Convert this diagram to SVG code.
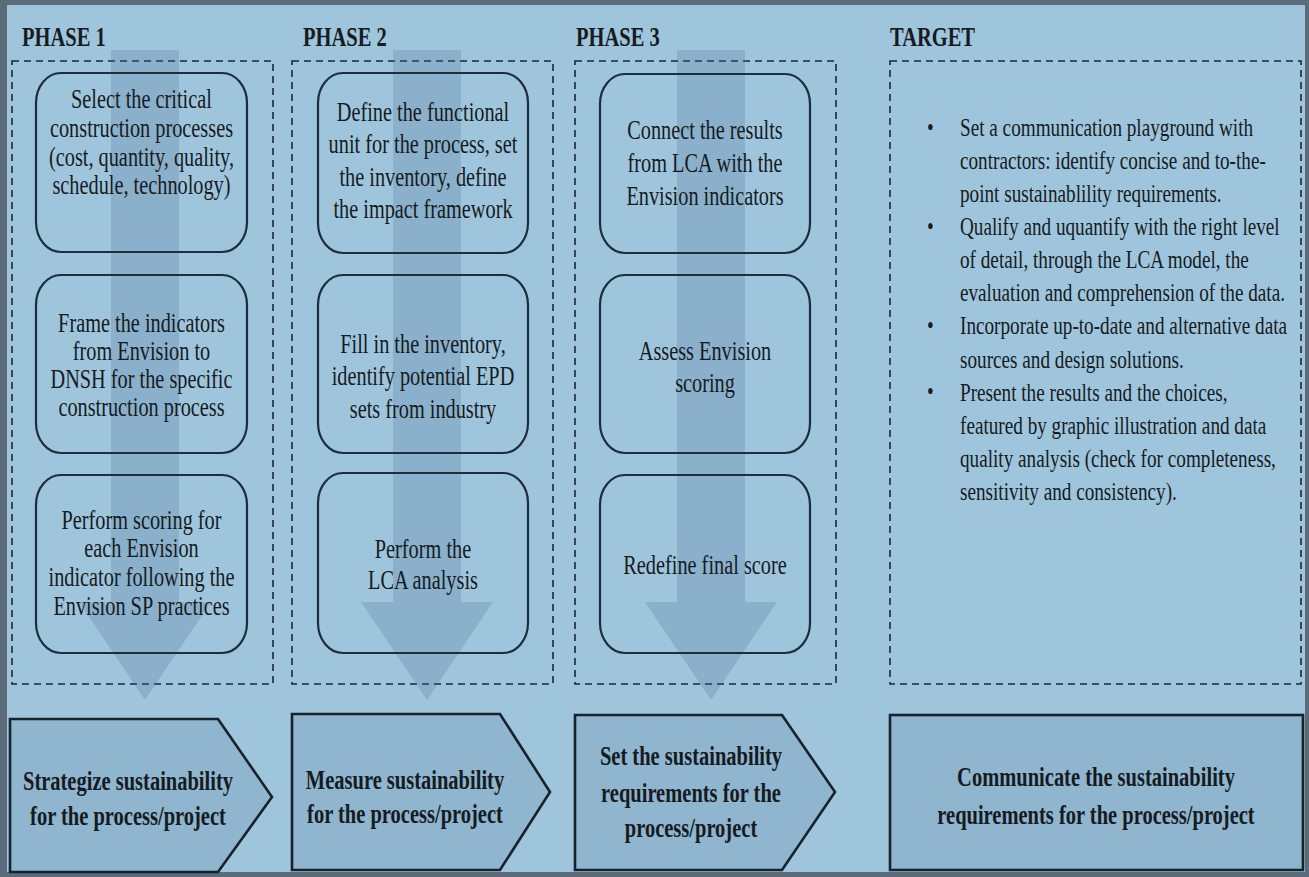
<svg xmlns="http://www.w3.org/2000/svg" width="1309" height="877" viewBox="0 0 1309 877">
<style>
.frame{fill:#5a6b7a}
.bg{fill:#9fc5dd}
.dash{fill:none;stroke:#1b2733;stroke-width:1.6;stroke-dasharray:7,5}
.arrow{fill:#4f7595;fill-opacity:0.26}
.box{fill:none;stroke:#1d2d3b;stroke-width:2.2}
.chev{fill:#8fb5cf;stroke:#17222c;stroke-width:2.6;stroke-linejoin:miter}
.t{font-family:"Liberation Serif","Times New Roman",serif;font-size:20.3px;fill:#151b21}
.c{text-anchor:middle}
.b{font-weight:bold;font-size:20.5px}
.g{font-size:19.2px}
</style>
<rect class="frame" x="0" y="0" width="1309" height="877"/>
<rect class="bg" x="7" y="5" width="1298" height="867"/>

<g id="phase1">
  <text class="t b" transform="translate(22,46) scale(1,1.3)">PHASE 1</text>
  <rect class="dash" x="12" y="61" width="261" height="623"/>
</g>
<g id="phase2">
  <text class="t b" transform="translate(303,46) scale(1,1.3)">PHASE 2</text>
  <rect class="dash" x="292" y="61" width="261" height="623"/>
</g>
<g id="phase3">
  <text class="t b" transform="translate(576,46) scale(1,1.3)">PHASE 3</text>
  <rect class="dash" x="575" y="61" width="261" height="623"/>
</g>
<g id="target">
  <text class="t b" transform="translate(890,46) scale(1,1.3)">TARGET</text>
  <rect class="dash" x="890" y="61" width="411" height="623"/>
</g>

<g id="connectors">
  <path class="arrow" d="M111,50 H179 V602 H211 L145,700 L79,602 H111 Z"/>
  <path class="arrow" d="M393,50 H461 V602 H493 L427,700 L361,602 H393 Z"/>
  <path class="arrow" d="M677,50 H745 V602 H777 L711,700 L645,602 H677 Z"/>
</g>

<g id="p1-select">
  <rect class="box" x="36" y="73" width="211" height="179" rx="25" ry="30"/>
  <text class="t c" transform="translate(141.5,108) scale(1,1.3)"><tspan x="0" y="0">Select the critical</tspan><tspan x="0" y="22.3">construction processes</tspan><tspan x="0" y="44.6">(cost, quantity, quality,</tspan><tspan x="0" y="66.4">schedule, technology)</tspan></text>
</g>
<g id="p1-frame">
  <rect class="box" x="36" y="275" width="211" height="178" rx="25" ry="30"/>
  <text class="t c" transform="translate(141.5,332) scale(1,1.3)"><tspan x="0" y="0">Frame the indicators</tspan><tspan x="0" y="21.7">from Envision to</tspan><tspan x="0" y="43.4">DNSH for the specific</tspan><tspan x="0" y="64.6">construction process</tspan></text>
</g>
<g id="p1-perform">
  <rect class="box" x="36" y="475" width="211" height="178" rx="25" ry="30"/>
  <text class="t c" transform="translate(141.5,529) scale(1,1.3)"><tspan x="0" y="0">Perform scoring for</tspan><tspan x="0" y="21.8">each Envision</tspan><tspan x="0" y="43.8">indicator following the</tspan><tspan x="0" y="66">Envision SP practices</tspan></text>
</g>

<g id="p2-define">
  <rect class="box" x="318" y="73" width="210" height="180" rx="25" ry="30"/>
  <text class="t c" transform="translate(423,121) scale(1,1.3)"><tspan x="0" y="0">Define the functional</tspan><tspan x="0" y="24.9">unit for the process, set</tspan><tspan x="0" y="49.8">the inventory, define</tspan><tspan x="0" y="74.7">the impact framework</tspan></text>
</g>
<g id="p2-fill">
  <rect class="box" x="318" y="275" width="210" height="178" rx="25" ry="30"/>
  <text class="t c" transform="translate(423,353) scale(1,1.3)"><tspan x="0" y="0">Fill in the inventory,</tspan><tspan x="0" y="25">identify potential EPD</tspan><tspan x="0" y="50">sets from industry</tspan></text>
</g>
<g id="p2-lca">
  <rect class="box" x="318" y="473" width="210" height="180" rx="25" ry="30"/>
  <text class="t c" transform="translate(423,558) scale(1,1.3)"><tspan x="0" y="0">Perform the</tspan><tspan x="0" y="24">LCA analysis</tspan></text>
</g>

<g id="p3-connect">
  <rect class="box" x="600" y="74" width="210" height="179" rx="25" ry="30"/>
  <text class="t c" transform="translate(705,139) scale(1,1.3)"><tspan x="0" y="0">Connect the results</tspan><tspan x="0" y="25.4">from LCA with the</tspan><tspan x="0" y="50.8">Envision indicators</tspan></text>
</g>
<g id="p3-assess">
  <rect class="box" x="600" y="275" width="210" height="178" rx="25" ry="30"/>
  <text class="t c" transform="translate(705,360) scale(1,1.3)"><tspan x="0" y="0">Assess Envision</tspan><tspan x="0" y="24.6">scoring</tspan></text>
</g>
<g id="p3-redefine">
  <rect class="box" x="600" y="475" width="210" height="178" rx="25" ry="30"/>
  <text class="t c" transform="translate(705,574) scale(1,1.3)">Redefine final score</text>
</g>

<g id="target-text">
  <g class="t g">
    <text transform="translate(927,136) scale(1,1.3)">•</text>
    <text transform="translate(927,235) scale(1,1.3)">•</text>
    <text transform="translate(927,334) scale(1,1.3)">•</text>
    <text transform="translate(927,400) scale(1,1.3)">•</text>
  </g>
  <text class="t g" transform="translate(960,136) scale(1,1.3)"><tspan x="0" y="0">Set a communication playground with</tspan><tspan x="0" y="25.45">contractors: identify concise and to-the-</tspan><tspan x="0" y="50.9">point sustainablility requirements.</tspan><tspan x="0" y="76.35">Qualify and uquantify with the right level</tspan><tspan x="0" y="101.8">of detail, through the LCA model, the</tspan><tspan x="0" y="127.25">evaluation and comprehension of the data.</tspan><tspan x="0" y="152.7">Incorporate up-to-date and alternative data</tspan><tspan x="0" y="178.15">sources and design solutions.</tspan><tspan x="0" y="203.6">Present the results and the choices,</tspan><tspan x="0" y="229.05">featured by graphic illustration and data</tspan><tspan x="0" y="254.5">quality analysis (check for completeness,</tspan><tspan x="0" y="279.95">sensitivity and consistency).</tspan></text>
</g>

<g id="outcome1">
  <path class="chev" d="M10,719 H218 L272,797 L218,872 H10 Z"/>
  <text class="t b c" transform="translate(128,790) scale(1,1.3)"><tspan x="0" y="0">Strategize sustainability</tspan><tspan x="0" y="26.9">for the process/project</tspan></text>
</g>
<g id="outcome2">
  <path class="chev" d="M292,714 H500 L550,792 L500,870 H292 Z"/>
  <text class="t b c" transform="translate(405,789) scale(1,1.3)"><tspan x="0" y="0">Measure sustainability</tspan><tspan x="0" y="26.2">for the process/project</tspan></text>
</g>
<g id="outcome3">
  <path class="chev" d="M575,715 H782 L835,792 L782,870 H575 Z"/>
  <text class="t b c" transform="translate(691,765) scale(1,1.3)"><tspan x="0" y="0">Set the sustainability</tspan><tspan x="0" y="28.5">requirements for the</tspan><tspan x="0" y="55.4">process/project</tspan></text>
</g>
<g id="outcome4">
  <rect class="chev" x="890" y="715" width="413" height="155"/>
  <text class="t b c" transform="translate(1096,786) scale(1,1.3)"><tspan x="0" y="0">Communicate the sustainability</tspan><tspan x="0" y="29.2">requirements for the process/project</tspan></text>
</g>
</svg>
